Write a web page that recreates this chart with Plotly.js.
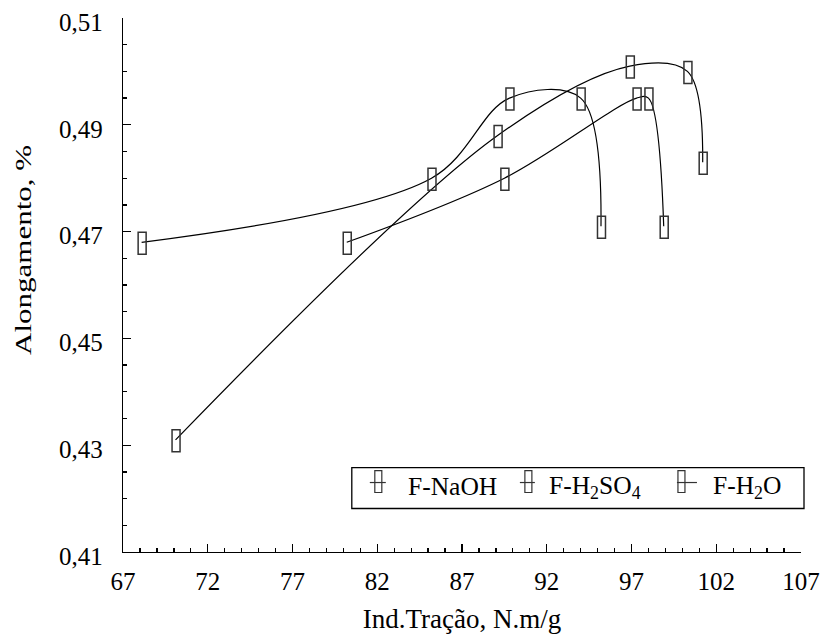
<!DOCTYPE html>
<html>
<head>
<meta charset="utf-8">
<script src="https://cdn.plot.ly/plotly-3.0.1.min.js"></script>
<style>
  html, body { margin: 0; padding: 0; background: #fff; }
  #chart { width: 829px; height: 635px; }
</style>
</head>
<body>
<div id="chart"></div>
<script>
// Tensile index (N.m/g) vs elongation (%) for three fibre treatments
var seriesNames = ['F-NaOH', 'F-H<sub>2</sub>SO<sub>4</sub>', 'F-H<sub>2</sub>O'];

var naohX = [80.2, 89.5, 97.3, 98.0, 98.9];
var naohY = [0.468, 0.480, 0.495, 0.495, 0.471];

var h2so4X = [68.1, 85.2, 89.8, 94.0, 95.2];
var h2so4Y = [0.468, 0.480, 0.495, 0.495, 0.471];

var h2oX = [70.1, 89.1, 96.9, 100.3, 101.2];
var h2oY = [0.431, 0.488, 0.501, 0.500, 0.483];

var xTicks = [67, 72, 77, 82, 87, 92, 97, 102, 107];
var yTicks = [0.41, 0.43, 0.45, 0.47, 0.49, 0.51];

var serif = '"Liberation Serif", "Times New Roman", serif';
var ink = '#000';
var boxInk = '#333';

var allX = [naohX, h2so4X, h2oX];
var allY = [naohY, h2so4Y, h2oY];

var traces = allX.map(function (xs, i) {
  return {
    x: xs, y: allY[i], name: seriesNames[i],
    type: 'scatter', mode: 'lines',
    line: { color: ink, width: 1.2, shape: 'spline', smoothing: 1 },
    showlegend: false, hoverinfo: 'x+y+name'
  };
});

// tall open rectangles anchored on each data point
var shapes = [];
allX.forEach(function (xs, i) {
  xs.forEach(function (xv, j) {
    shapes.push({
      type: 'rect', xref: 'x', yref: 'y',
      xsizemode: 'pixel', ysizemode: 'pixel',
      xanchor: xv, yanchor: allY[i][j],
      x0: -3.5, x1: 4.5, y0: -12, y1: 10,
      line: { color: boxInk, width: 1.5 }, fillcolor: 'rgba(0,0,0,0)', layer: 'above'
    });
  });
});

// legend frame and keys (positions in pixels of the 829x635 page)
var L = 123.3, R = 801, T = 18.3, B = 552.5;
function px(v) { return (v - L) / (R - L); }
function py(v) { return (B - v) / (B - T); }

shapes.push({
  type: 'rect', xref: 'paper', yref: 'paper',
  x0: px(352), x1: px(804), y0: py(509), y1: py(468),
  line: { color: ink, width: 1.3 }, fillcolor: '#fff', layer: 'above'
});

var keyRect = [375, 525, 678];
var keyLine = [[370, 386], [520, 535], [677, 697]];
var keyText = [406, 547, 711];
var annotations = [{
  text: 'Alongamento, %', xref: 'paper', yref: 'paper',
  x: px(23), y: py(250), xanchor: 'center', yanchor: 'middle',
  textangle: -90, showarrow: false,
  font: { family: serif, size: 24, color: ink }
}];
keyRect.forEach(function (kx, i) {
  shapes.push({
    type: 'line', xref: 'paper', yref: 'paper',
    x0: px(keyLine[i][0]), x1: px(keyLine[i][1]), y0: py(483), y1: py(483),
    line: { color: boxInk, width: 1.2 }, layer: 'above'
  });
  shapes.push({
    type: 'rect', xref: 'paper', yref: 'paper',
    x0: px(kx), x1: px(kx + 7), y0: py(493), y1: py(471),
    line: { color: boxInk, width: 1.2 }, fillcolor: 'rgba(0,0,0,0)', layer: 'above'
  });
  annotations.push({
    text: seriesNames[i], xref: 'paper', yref: 'paper',
    x: px(keyText[i]), y: py(487), xanchor: 'left', yanchor: 'middle',
    showarrow: false, font: { family: serif, size: 25.5, color: ink }
  });
});

var layout = {
  width: 829, height: 635,
  margin: { l: 123.3, r: 28, t: 18.3, b: 82.5, pad: 0 },
  paper_bgcolor: '#fff', plot_bgcolor: '#fff',
  separators: ',.',
  showlegend: false,
  font: { family: serif, color: ink },
  xaxis: {
    range: [67, 107], tickmode: 'array', tickvals: xTicks,
    ticks: 'inside', ticklen: 8, tickwidth: 1.3, tickcolor: ink,
    minor: { dtick: 1, tick0: 67, ticks: 'inside', ticklen: 4, tickwidth: 1.3, tickcolor: ink, showgrid: false },
    showline: true, linecolor: ink, linewidth: 1.3,
    showgrid: false, zeroline: false,
    tickfont: { family: serif, size: 25, color: ink },
    ticklabelstandoff: 7,
    title: { text: 'Ind.Tração, N.m/g', font: { family: serif, size: 27, color: ink }, standoff: 14 }
  },
  yaxis: {
    range: [0.41, 0.51], tickmode: 'array', tickvals: yTicks, tickformat: '.2f',
    ticks: 'inside', ticklen: 8, tickwidth: 1.3, tickcolor: ink,
    minor: { dtick: 0.005, tick0: 0.41, ticks: 'inside', ticklen: 4, tickwidth: 1.3, tickcolor: ink, showgrid: false },
    showline: true, linecolor: ink, linewidth: 1.3,
    showgrid: false, zeroline: false,
    tickfont: { family: serif, size: 25, color: ink },
    ticklabelstandoff: 14, ticklabelshift: 4
  },
  shapes: shapes,
  annotations: annotations
};

Plotly.newPlot('chart', traces, layout, { displayModeBar: false, staticPlot: true }).then(function () {
  // the axis label is set in a wide, stretched face
  var t = document.querySelector('#chart .annotation[data-index="0"] text');
  if (t) {
    t.setAttribute('textLength', '210');
    t.setAttribute('lengthAdjust', 'spacingAndGlyphs');
  }
});
</script>
</body>
</html>
